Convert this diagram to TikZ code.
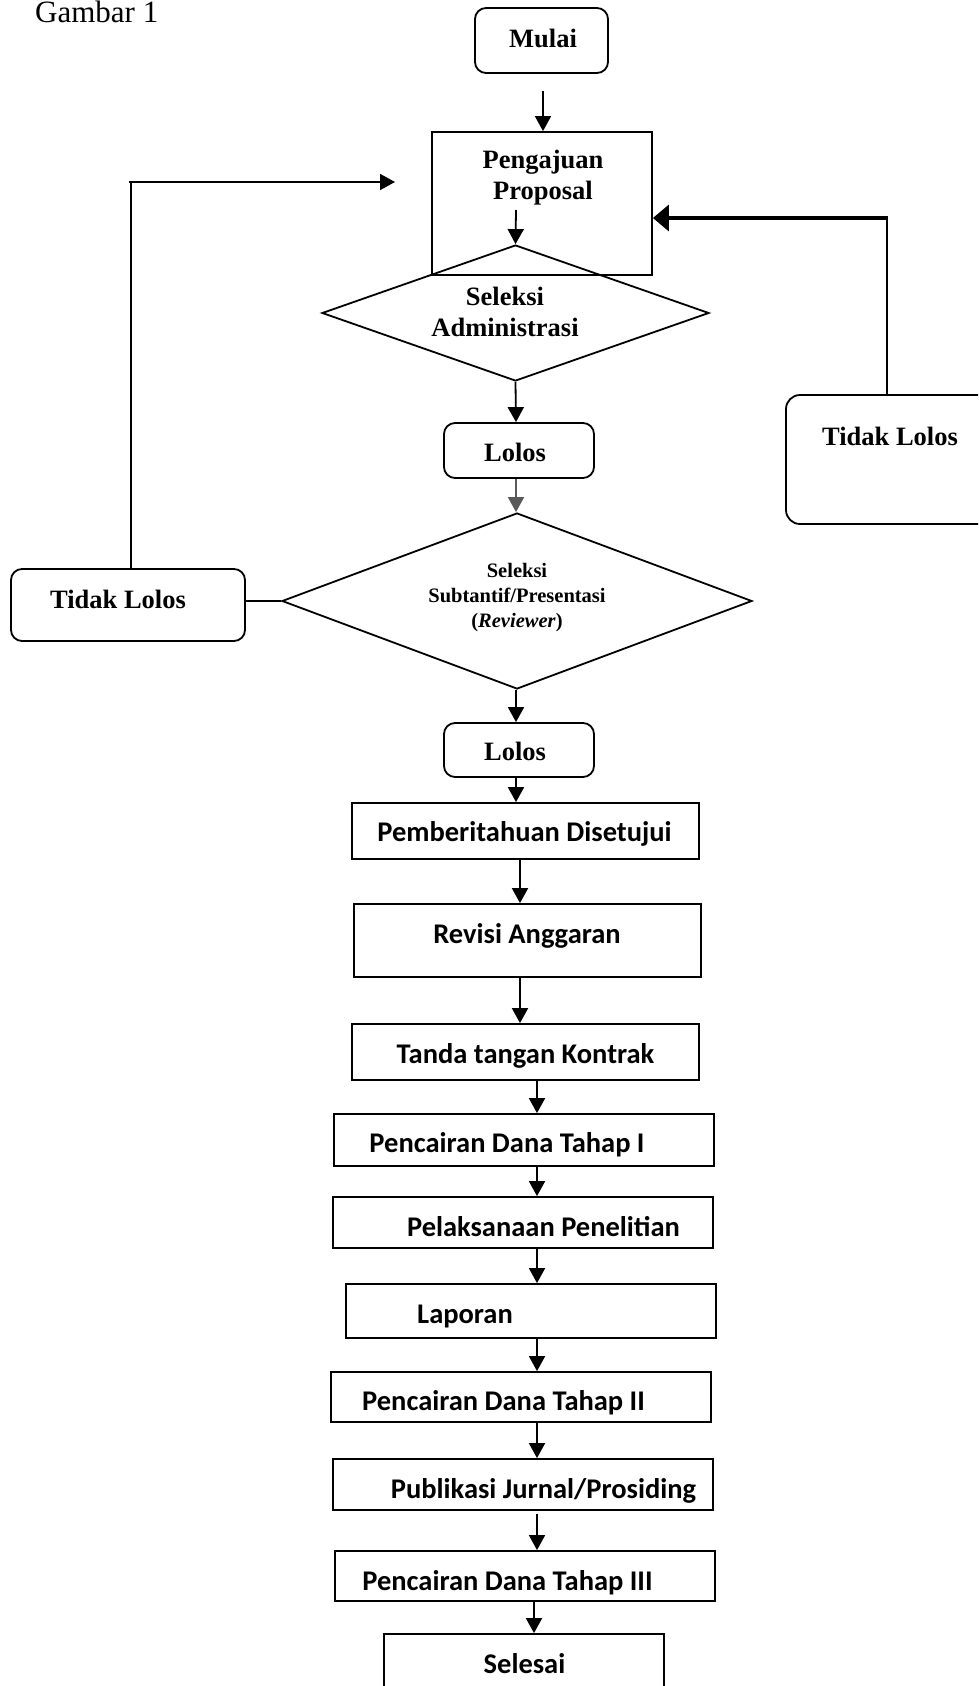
\documentclass[tikz,border=0pt]{standalone}
\usepackage{fontspec}
\setmainfont{Liberation Serif}
\newfontfamily\calfont{Carlito}
\usetikzlibrary{shapes.geometric,arrows.meta}
\begin{document}
\begin{tikzpicture}[x=1pt,y=-1pt,
  rbox/.style={draw, line width=1.8pt, rounded corners=11pt, inner sep=0pt},
  sbox/.style={draw, line width=1.8pt, inner sep=0pt},
  dia/.style={draw, diamond, line width=1.8pt, inner sep=0pt},
  tms/.style={font=\fontsize{26.5}{31}\selectfont\bfseries, inner sep=0pt, align=center},
  tsm/.style={font=\fontsize{20.5}{25}\selectfont\bfseries, inner sep=0pt, align=center},
  clb/.style={font=\calfont\fontsize{28.5}{34}\selectfont\bfseries, inner sep=0pt, anchor=base},
  gbr/.style={font=\fontsize{31}{36}\selectfont, inner sep=0pt, anchor=base west},
  ln/.style={line width=1.8pt},
  arr/.style={line width=1.8pt, -{Triangle[length=15pt,width=16pt]}},
]
\useasboundingbox (0,0) rectangle (978,1686);
\clip (0,0) rectangle (978,1686);

% caption
\node[gbr] (gambar) at (35,23) {Gambar 1};

% column coordinates for arrows
\coordinate (colA) at (516,0);
\coordinate (colB) at (520,0);
\coordinate (colC) at (537,0);
\coordinate (colD) at (534,0);

% top part
\node[rbox, minimum width=133pt, minimum height=65pt] (mulai) at (541.5,40.5) {};
\node[tms, anchor=base] (mulaitxt) at (543,48) {Mulai};

\node[sbox, minimum width=220pt, minimum height=143pt] (peng) at (542,203.5) {};
\node[tms] (pengtxt) at (543,177.5) {Pengajuan\\Proposal};

\node[dia, minimum width=387pt, minimum height=136pt] (sa) at (515.5,313) {};
\node[tms] (satxt) at (505,311.5) {Seleksi\\Administrasi};

\node[rbox, minimum width=150pt, minimum height=55pt] (lolosa) at (519,450.5) {};
\node[tms, anchor=base] (lolosatxt) at (515,461) {Lolos};

\node[dia, minimum width=470pt, minimum height=176pt] (ss) at (517,601) {};
\node[tsm] (sstxt) at (517,598) {Seleksi\\Subtantif/Presentasi\\(\textit{Reviewer})};

\node[rbox, minimum width=234pt, minimum height=72pt] (tll) at (128,605) {};
\node[tms, anchor=base] (tlltxt) at (118,608) {Tidak Lolos};

\node[rbox, rounded corners=14pt, minimum width=209pt, minimum height=129pt] (tlr) at (890.5,459.5) {};
\node[tms, anchor=base] (tlrtxt) at (890,445) {Tidak Lolos};

\node[rbox, minimum width=150pt, minimum height=54pt] (lolosb) at (519,750) {};
\node[tms, anchor=base] (lolosbtxt) at (515,760) {Lolos};

% lower part
\node[sbox, minimum width=347pt, minimum height=56pt] (pem) at (525.5,831) {};
\node[clb] (pemtxt) at (524.5,841) {Pemberitahuan Disetujui};

\node[sbox, minimum width=347pt, minimum height=73pt] (rev) at (527.5,940.5) {};
\node[clb] (revtxt) at (527,943) {Revisi Anggaran};

\node[sbox, minimum width=347pt, minimum height=56pt] (ttd) at (525.5,1052) {};
\node[clb] (ttdtxt) at (525.5,1063) {Tanda tangan Kontrak};

\node[sbox, minimum width=380pt, minimum height=52pt] (pa) at (524,1140) {};
\node[clb] (patxt) at (507,1152) {Pencairan Dana Tahap I};

\node[sbox, minimum width=380pt, minimum height=51pt] (pel) at (523,1222.5) {};
\node[clb] (peltxt) at (543.5,1236) {Pelaksanaan Penelitian};

\node[sbox, minimum width=370pt, minimum height=54pt] (lap) at (531,1311) {};
\node[clb] (laptxt) at (465,1323) {Laporan};

\node[sbox, minimum width=380pt, minimum height=50pt] (pb) at (521,1397) {};
\node[clb] (pbtxt) at (503.5,1410) {Pencairan Dana Tahap II};

\node[sbox, minimum width=380pt, minimum height=51pt] (pub) at (523,1484.5) {};
\node[clb] (pubtxt) at (543.5,1498) {Publikasi Jurnal/Prosiding};

\node[sbox, minimum width=380pt, minimum height=50pt] (pc) at (525,1576) {};
\node[clb] (pctxt) at (507.5,1590) {Pencairan Dana Tahap III};

\node[sbox, minimum width=280pt, minimum height=80pt] (sel) at (524,1674) {};
\node[clb] (seltxt) at (524.5,1673) {Selesai};

% loop-back coordinates
\coordinate (lcorner) at (131,182);
\coordinate (ltip) at (395,182);
\coordinate (rcorner) at (887,218);
\coordinate (pin) at (516,210);

% connectors
\draw[arr] ([yshift=-17pt]mulai.south -| pengtxt) -- (peng.north -| pengtxt);
\draw[arr] (pin) -- (sa.north);
\draw[arr] (sa.south) -- (lolosa.north -| colA);
\draw[arr, draw=black!65] (lolosa.south -| colA) -- (ss.north -| colA);
\draw[arr] (ss.south -| colA) -- (lolosb.north -| colA);
\draw[arr] (lolosb.south -| colA) -- (pem.north -| colA);
\draw[arr] (pem.south -| colB) -- (rev.north -| colB);
\draw[arr] (rev.south -| colB) -- (ttd.north -| colB);
\draw[arr] (ttd.south -| colC) -- (pa.north -| colC);
\draw[arr] (pa.south -| colC) -- (pel.north -| colC);
\draw[arr] (pel.south -| colC) -- (lap.north -| colC);
\draw[arr] (lap.south -| colC) -- (pb.north -| colC);
\draw[arr] (pb.south -| colC) -- (pub.north -| colC);
\draw[arr] ([yshift=-3pt]pub.south -| colC) -- (pc.north -| colC);
\draw[arr] (pc.south -| colD) -- (sel.north -| colD);

% left loop (Tidak Lolos -> Pengajuan)
\draw[ln] (ss.west -| tll.east) -- (ss.west);
\draw[ln] (tll.north -| lcorner) -- (lcorner);
\draw[arr] ([xshift=-2pt]lcorner) -- (ltip);

% right loop (Tidak Lolos -> Pengajuan)
\draw[ln] (tlr.north -| rcorner) -- (rcorner);
\draw[line width=3.6pt, -{Triangle[length=16pt,width=26pt]}] ([xshift=1pt]rcorner) -- (peng.east |- rcorner);
\end{tikzpicture}
\end{document}
